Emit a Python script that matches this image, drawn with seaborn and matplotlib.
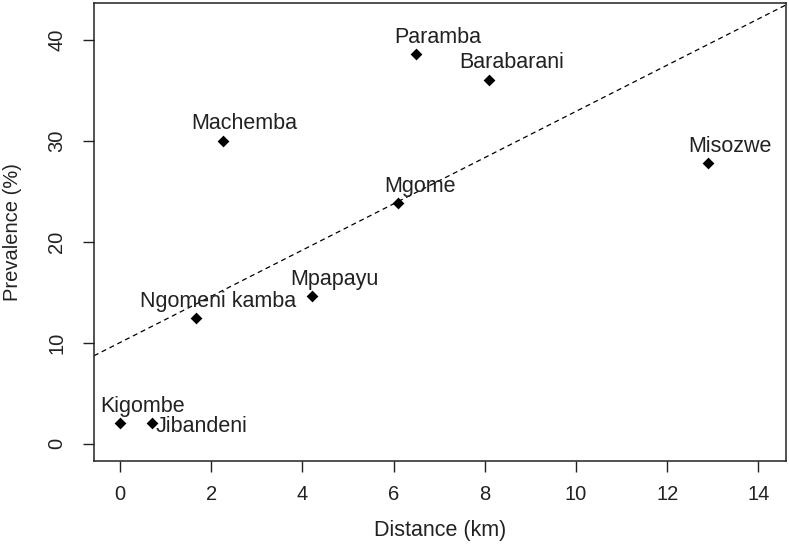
import matplotlib
matplotlib.use("Agg")
import matplotlib.pyplot as plt
import seaborn as sns
import pandas as pd

# data
villages = ["Machemba", "Paramba", "Barabarani", "Misozwe", "Mgome",
            "Mpapayu", "Ngomeni kamba", "Kigombe", "Jibandeni"]
distance = [2.25, 6.49, 8.10, 12.89, 6.10, 4.22, 1.67, 0.01, 0.70]
prevalence = [30.0, 38.6, 36.05, 27.8, 23.8, 14.64, 12.46, 2.02, 2.02]

df = pd.DataFrame({"village": villages, "distance": distance, "prevalence": prevalence})

sns.set_style("ticks")
plt.rcParams['font.family'] = ['Liberation Sans', 'DejaVu Sans']

fig = plt.figure(figsize=(7.89, 5.45), dpi=100)
ax = fig.add_axes([0.119, 0.154, 0.877, 0.8405])
ax.set_xlim(-0.57, 14.6)
ax.set_ylim(-1.7, 43.65)

# regression line across the full axis
sns.regplot(x="distance", y="prevalence", data=df, ax=ax, scatter=False, ci=None,
            truncate=False, color="black",
            line_kws={"linestyle": (0, (4, 3)), "linewidth": 0.9})
sns.scatterplot(x="distance", y="prevalence", data=df, ax=ax, marker="D", s=36,
                color="black", edgecolor="black", linewidth=0, zorder=3)

for name, x, y in zip(df["village"], df["distance"], df["prevalence"]):
    if name == "Jibandeni":
        ax.annotate(name, (x, y), xytext=(4, -3), textcoords="offset pixels",
                    ha="left", va="center", fontsize=15.5, color="#222222")
    else:
        ax.annotate(name, (x, y), xytext=(22, 17), textcoords="offset pixels",
                    ha="center", va="center", fontsize=15.5, color="#222222")

ax.set_xlim(-0.57, 14.6)
ax.set_ylim(-1.7, 43.65)
ax.set_xticks(range(0, 15, 2))
ax.set_yticks(range(0, 41, 10))
for lab in ax.get_yticklabels():
    lab.set_rotation(90)
    lab.set_va("center")
ax.tick_params(axis="both", length=8, width=1, labelsize=14.5, colors="#222222")
ax.tick_params(axis="x", pad=9)
ax.tick_params(axis="y", pad=12)
for sp in ax.spines.values():
    sp.set_visible(True)
    sp.set_linewidth(1.1)
    sp.set_color("#222222")

ax.set_xlabel("Distance (km)", fontsize=15.5, color="#222222", labelpad=12)
ax.set_ylabel("Prevalence (%)", fontsize=14.5, color="#222222", labelpad=18)

fig.savefig("out.png", dpi=100)
